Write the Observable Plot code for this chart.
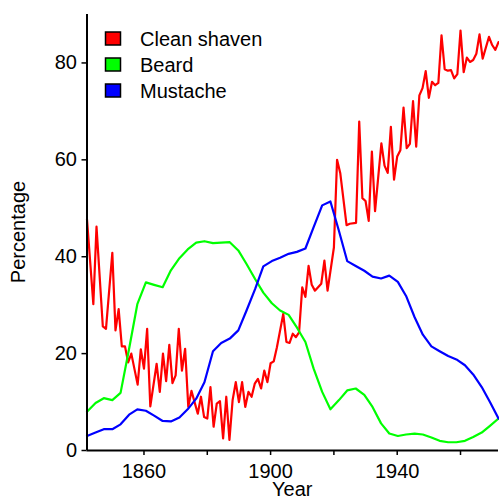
<!DOCTYPE html>
<html>
<head>
<meta charset="utf-8">
<script src="https://cdn.jsdelivr.net/npm/d3@7"></script>
<script src="https://cdn.jsdelivr.net/npm/@observablehq/plot@0.6"></script>
<style>
  html, body { margin: 0; padding: 0; background: white; }
  svg { display: block; }
</style>
</head>
<body>
<div id="chart"></div>
<script>
// Clean shaven (annual observations)
const shavenYears = [1842,1844,1845,1847,1848,1850,1851,1852,1853,1854,1855,1856,1858,1859,1860,1861,1862,1864,1865,1866,1867,1868,1869,1870,1871,1872,1873,1874,1875,1877,1878,1879,1880,1881,1882,1883,1884,1885,1886,1887,1888,1889,1890,1891,1892,1893,1894,1895,1896,1897,1898,1899,1900,1901,1902,1904,1905,1906,1907,1908,1909,1910,1911,1912,1913,1914,1916,1917,1918,1920,1921,1922,1924,1925,1927,1928,1929,1930,1931,1932,1933,1935,1936,1937,1938,1939,1940,1941,1942,1943,1944,1945,1946,1947,1948,1949,1950,1951,1952,1953,1954,1955,1956,1957,1958,1959,1960,1961,1962,1963,1964,1965,1966,1967,1969,1970,1971,1972];
const cleanShaven = [47.7,30.2,46.2,25.6,25.1,40.8,24.8,29.2,21.5,21.5,18.2,20.0,13.6,20.9,16.9,25.1,9.1,17.9,12.1,20.0,14.3,21.8,13.9,15.5,25.1,16.5,21.0,9.0,12.3,7.6,11.1,6.9,6.6,13.1,4.9,9.7,10.2,2.5,11.1,2.2,10.4,14.1,10.0,14.1,9.0,12.1,11.1,13.8,14.8,12.8,16.5,14.1,18.0,18.4,21.3,28.2,22.4,22.2,24.1,23.4,24.4,33.7,31.7,38.1,34.2,33.0,34.4,39.2,33.0,41.9,60.0,57.3,46.5,46.8,47.0,67.9,52.1,51.5,47.4,61.7,49.4,63.4,58.8,57.3,66.8,55.9,60.7,62.0,70.8,62.4,63.3,72.1,62.7,73.3,74.8,78.3,72.8,76.1,75.4,75.9,85.7,78.7,78.4,78.5,76.8,77.7,86.7,78.1,81.1,80.2,80.6,81.9,85.9,80.9,85.4,83.7,82.7,84.3];

// Beard and Mustache (smoothed series)
const trendYears = [1842,1844.7,1847.3,1850,1852.6,1855.3,1857.9,1860.6,1863.2,1865.9,1868.5,1871.2,1873.8,1876.5,1879.1,1881.8,1884.4,1887.1,1889.8,1892.4,1895.1,1897.7,1900.4,1903,1905.7,1908.3,1911,1913.6,1916.3,1918.9,1921.6,1924.2,1926.9,1929.6,1932.2,1934.9,1937.5,1940.2,1942.8,1945.5,1948.1,1950.8,1953.4,1956.1,1958.7,1961.4,1964,1966.7,1969.3,1972];
const beard = [8.0,9.8,10.8,10.4,11.9,21.0,30.2,34.7,34.2,33.7,37.2,39.7,41.5,42.9,43.2,42.8,42.9,43.0,41.3,38.5,35.4,32.6,30.4,28.9,28.0,25.4,22.4,16.9,12.1,8.5,10.4,12.4,12.8,11.5,9.0,5.6,3.5,3.0,3.3,3.5,3.3,2.7,2.0,1.7,1.7,2.0,2.8,3.7,5.1,6.6];
const mustache = [3.0,3.7,4.4,4.4,5.4,7.4,8.5,8.2,7.2,6.1,6.0,6.8,8.5,10.7,14.1,20.5,22.2,23.1,24.8,28.9,33.3,38.0,39.1,39.8,40.6,41.0,41.7,46.1,50.6,51.4,45.3,39.1,38.1,37.1,35.9,35.5,36.1,34.8,31.9,27.5,23.9,21.5,20.5,19.5,18.8,17.6,15.7,13.1,10.0,6.6];

const seriesNames = ["Clean shaven", "Beard", "Mustache"];
const seriesColors = ["#FF0000", "#00FF00", "#0000FF"];

const xTicks = [1860, 1880, 1900, 1920, 1940, 1960];
const xTickLabels = [1860, 1900, 1940];
const yTicks = [0, 20, 40, 60, 80];

const shavenData = shavenYears.map((y, i) => ({year: y, value: cleanShaven[i]}));
const beardData = trendYears.map((y, i) => ({year: y, value: beard[i]}));
const mustacheData = trendYears.map((y, i) => ({year: y, value: mustache[i]}));

const W = 499, H = 499;
const font = "'Liberation Sans', Arial, Helvetica, sans-serif";

const chart = Plot.plot({
  width: W,
  height: H,
  marginLeft: 86.5,
  marginRight: 1,
  marginTop: 14,
  marginBottom: 49,
  style: {fontFamily: font, background: "white", color: "black"},
  x: {domain: [1842, 1972]},
  y: {domain: [0, 90]},
  marks: [
    Plot.axisX({ticks: xTicks, tickFormat: d => xTickLabels.includes(d) ? String(d) : "", tickSize: 5, tickPadding: 8, fontSize: 20, strokeWidth: 1.5, label: null}),
    Plot.axisY({ticks: yTicks, tickSize: 5, tickPadding: 5, fontSize: 20, strokeWidth: 1.5, label: null}),
    Plot.line(shavenData, {x: "year", y: "value", stroke: seriesColors[0], strokeWidth: 2.2}),
    Plot.line(beardData, {x: "year", y: "value", stroke: seriesColors[1], strokeWidth: 2.2}),
    Plot.line(mustacheData, {x: "year", y: "value", stroke: seriesColors[2], strokeWidth: 2.2}),
    Plot.ruleY([0], {stroke: "black", strokeWidth: 2}),
    Plot.ruleX([1842], {stroke: "black", strokeWidth: 2})
  ]
});

document.getElementById("chart").appendChild(chart);

const svg = d3.select(chart);
// axis titles
svg.append("text")
  .attr("x", (86.5 + 498) / 2).attr("y", 496)
  .attr("text-anchor", "middle")
  .style("font-family", font).style("font-size", "20px").attr("fill", "black")
  .text("Year");
svg.append("text")
  .attr("transform", "translate(25,232) rotate(-90)")
  .attr("text-anchor", "middle")
  .style("font-family", font).style("font-size", "20px").attr("fill", "black")
  .text("Percentage");

// legend
const leg = svg.append("g").attr("text-anchor", "start");
seriesNames.forEach((name, i) => {
  const cy = 38.5 + i * 26;
  leg.append("rect")
    .attr("x", 105.5).attr("y", cy - 6.5).attr("width", 15).attr("height", 13)
    .attr("fill", seriesColors[i]).attr("stroke", "black").attr("stroke-width", 1.5);
  leg.append("text")
    .attr("x", 140).attr("y", cy).attr("dy", "0.36em")
    .attr("text-anchor", "start")
    .style("font-family", font).style("font-size", "20px").attr("fill", "black")
    .text(name);
});
</script>
</body>
</html>
